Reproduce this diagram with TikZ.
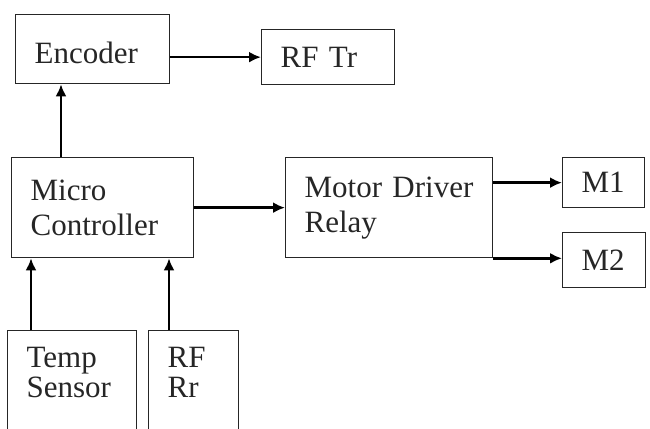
\documentclass[tikz,border=0pt]{standalone}
\usepackage{fontspec}
\setmainfont{Liberation Serif}
\usetikzlibrary{arrows.meta}
\tikzset{block/.style={draw=black!85, line width=1.3pt, anchor=north west, align=left, inner xsep=19pt, font=\fontsize{31}{35}\selectfont, text=black!85}}
\tikzset{link/.style={line width=2.6pt, -{Latex[length=12pt,width=11pt]}}}

\begin{document}
\begin{tikzpicture}[x=1pt,y=-1pt]
	\useasboundingbox (0,0) rectangle (650,428);
	\clip (0,0) rectangle (650,428);

	% Blocks
	\node[block, text width=116pt, minimum height=69pt, text height=29pt] (enc) at (15,14) {Encoder};
	\node[block, text width=95pt, minimum height=55pt] (rftr) at (261,29) {RF Tr};
	\node[block, text width=144pt, minimum height=100pt] (mc) at (11,157) {Micro\\Controller};
	\node[block, text width=169pt, minimum height=100pt] (mdr) at (285,157) {Motor Driver\\Relay};
	\node[block, text width=44pt, minimum height=50pt] (m1) at (562,157) {M1};
	\node[block, text width=45pt, minimum height=55pt] (m2) at (562,232) {M2};
	% open at the bottom edge
	\node[block, font=\fontsize{31}{30}\selectfont, text width=91pt, inner ysep=17pt, text depth=60pt] (temp) at (7,330) {Temp\\Sensor};
	\node[block, font=\fontsize{31}{30}\selectfont, text width=52pt, inner ysep=17pt, text depth=60pt] (rfrr) at (148,330) {RF\\Rr};

	% Connections
	\draw[link] (enc.east |- rftr.west) -- (rftr.west);
	\draw[link] ([xshift=50pt]mc.north west) -- ([xshift=50pt]mc.north west |- enc.south);
	\draw[link] (mc.east) -- (mdr.west);
	\draw[link] (mdr.east |- m1.west) -- (m1.west);
	\draw[link] (mdr.south east) -- (mdr.south east -| m2.west);
	\draw[link] ([xshift=24pt]temp.north west) -- ([xshift=24pt]temp.north west |- mc.south);
	\draw[link] ([xshift=21pt]rfrr.north west) -- ([xshift=21pt]rfrr.north west |- mc.south);

\end{tikzpicture}
\end{document}
